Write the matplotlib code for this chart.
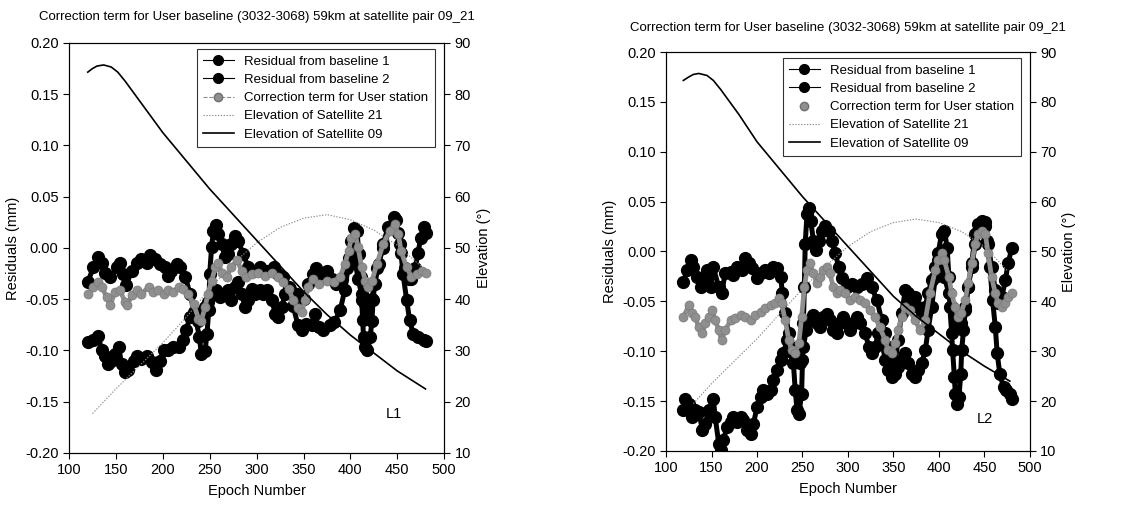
import matplotlib
matplotlib.use("Agg")
import matplotlib.pyplot as plt
from matplotlib.lines import Line2D

plt.rcParams['font.family'] = ['Liberation Sans', 'DejaVu Sans']

TITLE = 'Correction term for User baseline (3032-3068) 59km at satellite pair 09_21'

# ---------------- L1 panel ----------------
l1_b1_ep = [120, 126, 131, 135, 138, 144, 151, 154, 158, 161, 167, 172, 177, 183, 186, 192, 197, 202,
            206, 209, 215, 218, 224, 229, 234, 239, 241, 245, 247, 249, 250, 252, 254, 257, 259, 263,
            266, 270, 273, 277, 280, 286, 291, 296, 304, 311, 318, 323, 328, 334, 339, 344, 348, 353,
            359, 362, 366, 371, 378, 383, 389, 394, 398, 401, 404, 407, 409, 411, 412, 413, 414, 416,
            418, 421, 423, 424, 426, 430, 435, 440, 446, 449, 453, 456, 460, 463, 467, 472, 478, 481]
l1_b1 = [-0.033, -0.019, -0.009, -0.015, -0.024, -0.028, -0.019, -0.015, -0.025, -0.036, -0.022, -0.015,
         -0.011, -0.015, -0.007, -0.011, -0.016, -0.019, -0.027, -0.022, -0.016, -0.019, -0.028, -0.045,
         -0.064, -0.087, -0.103, -0.101, -0.084, -0.061, -0.025, 0.001, 0.017, 0.022, 0.014, 0.004,
         -0.009, -0.006, 0.004, 0.012, 0.007, -0.006, -0.019, -0.022, -0.019, -0.022, -0.019, -0.025,
         -0.028, -0.038, -0.057, -0.075, -0.080, -0.074, -0.075, -0.064, -0.077, -0.080, -0.075, -0.072,
         -0.061, -0.041, -0.016, 0.007, 0.019, 0.017, -0.006, -0.028, -0.051, -0.070, -0.087, -0.097,
         -0.100, -0.087, -0.071, -0.051, -0.035, -0.016, 0.004, 0.020, 0.030, 0.027, 0.004, -0.025,
         -0.051, -0.070, -0.084, -0.087, -0.090, -0.091]

l1_b2_ep = [120, 126, 131, 135, 138, 142, 145, 149, 153, 156, 160, 163, 169, 172, 177, 183, 188, 193,
            197, 201, 206, 211, 217, 222, 225, 229, 233, 236, 238, 241, 245, 248, 254, 257, 261, 264,
            270, 273, 277, 280, 284, 288, 291, 295, 298, 304, 307, 311, 316, 320, 323, 327, 330, 336,
            343, 350, 355, 360, 363, 369, 375, 380, 385, 391, 396, 399, 403, 408, 412, 416, 419, 423,
            428, 435, 442, 447, 451, 454, 458, 462, 465, 469, 472, 475, 478, 481]
l1_b2 = [-0.092, -0.090, -0.086, -0.100, -0.105, -0.113, -0.110, -0.103, -0.097, -0.113, -0.121, -0.119,
         -0.110, -0.105, -0.108, -0.105, -0.111, -0.119, -0.110, -0.100, -0.100, -0.097, -0.097, -0.090,
         -0.080, -0.067, -0.062, -0.068, -0.071, -0.064, -0.058, -0.053, -0.045, -0.041, -0.048, -0.045,
         -0.041, -0.051, -0.038, -0.033, -0.045, -0.058, -0.051, -0.040, -0.045, -0.041, -0.045, -0.041,
         -0.051, -0.064, -0.067, -0.058, -0.045, -0.040, -0.045, -0.050, -0.035, -0.025, -0.020, -0.027,
         -0.022, -0.030, -0.035, -0.030, -0.020, -0.010, 0.000, -0.030, -0.045, -0.055, -0.060, -0.050,
         -0.020, 0.000, 0.020, 0.028, 0.015, -0.005, -0.020, -0.030, -0.030, -0.020, -0.005, 0.010,
         0.020, 0.015]

l1_corr_ep = [120, 126, 131, 135, 140, 144, 149, 154, 160, 162, 167, 172, 177, 185, 190, 195, 201, 206,
              211, 217, 222, 227, 233, 238, 241, 245, 248, 252, 256, 259, 263, 268, 273, 279, 284, 289,
              295, 302, 309, 316, 323, 328, 334, 339, 344, 348, 352, 355, 360, 367, 375, 382, 389, 394,
              398, 401, 405, 408, 412, 416, 419, 423, 428, 435, 442, 447, 451, 454, 460, 465, 471, 476, 481]
l1_corr = [-0.045, -0.038, -0.033, -0.038, -0.048, -0.056, -0.043, -0.041, -0.053, -0.056, -0.046,
           -0.041, -0.045, -0.038, -0.043, -0.041, -0.045, -0.041, -0.043, -0.038, -0.040, -0.045,
           -0.055, -0.069, -0.071, -0.058, -0.045, -0.032, -0.019, -0.015, -0.024, -0.028, -0.019,
           -0.012, -0.022, -0.028, -0.025, -0.024, -0.027, -0.024, -0.028, -0.033, -0.040, -0.051,
           -0.059, -0.062, -0.051, -0.038, -0.030, -0.035, -0.032, -0.033, -0.028, -0.016, -0.003,
           0.010, 0.014, 0.001, -0.019, -0.032, -0.038, -0.032, -0.016, 0.004, 0.017, 0.023, 0.014,
           -0.003, -0.019, -0.028, -0.025, -0.022, -0.024]

l1_sat21_ep = [125, 150, 175, 200, 225, 250, 275, 300, 325, 350, 375, 400, 425, 450, 478]
l1_sat21 = [17.7, 22.5, 27.0, 31.5, 36.5, 42.0, 47.0, 51.0, 54.0, 55.8, 56.5, 55.5, 53.5, 50.5, 46.0]
l1_sat09_ep = [120, 125, 130, 137, 145, 152, 160, 170, 180, 200, 225, 250, 275, 300, 325, 350, 375, 400,
               425, 450, 480]
l1_sat09 = [84.3, 85.0, 85.5, 85.7, 85.3, 84.3, 82.5, 80.0, 77.5, 72.5, 67.0, 61.5, 56.5, 51.5, 46.5,
            41.5, 37.0, 33.0, 29.5, 26.0, 22.5]

# ---------------- L2 panel ----------------
l2_b1_ep = [119, 123, 127, 130, 134, 138, 141, 145, 149, 152, 158, 161, 165, 171, 174, 178, 183, 187,
            191, 194, 200, 204, 209, 213, 218, 222, 226, 228, 231, 235, 237, 240, 242, 244, 246, 249,
            250, 251, 252, 253, 255, 257, 259, 262, 265, 268, 271, 275, 279, 282, 286, 290, 293, 299,
            304, 310, 315, 321, 326, 332, 337, 341, 344, 348, 352, 355, 359, 363, 366, 370, 374, 377,
            381, 385, 388, 392, 396, 399, 403, 406, 411, 414, 418, 421, 424, 429, 432, 436, 440, 443,
            447, 451, 454, 458, 462, 465, 469, 473, 476, 480]
l2_b1 = [-0.031, -0.019, -0.009, -0.016, -0.026, -0.036, -0.029, -0.019, -0.036, -0.016, -0.036, -0.042,
         -0.022, -0.021, -0.024, -0.016, -0.019, -0.007, -0.012, -0.017, -0.027, -0.022, -0.019, -0.022,
         -0.016, -0.017, -0.026, -0.042, -0.062, -0.082, -0.099, -0.112, -0.139, -0.159, -0.163, -0.143,
         -0.109, -0.072, -0.036, 0.008, 0.038, 0.044, 0.031, 0.011, 0.001, 0.011, 0.021, 0.026, 0.021,
         0.011, -0.002, -0.016, -0.027, -0.036, -0.033, -0.036, -0.033, -0.027, -0.036, -0.049, -0.069,
         -0.082, -0.096, -0.123, -0.112, -0.089, -0.062, -0.039, -0.042, -0.049, -0.046, -0.056, -0.062,
         -0.056, -0.042, -0.029, -0.016, -0.009, -0.012, -0.026, -0.042, -0.056, -0.066, -0.076, -0.072,
         -0.056, -0.036, -0.016, 0.008, 0.021, 0.028, 0.026, 0.008, -0.016, -0.039, -0.052, -0.046,
         -0.029, -0.012, 0.003]

l2_b2_ep = [119, 121, 125, 129, 132, 136, 140, 143, 147, 152, 154, 158, 160, 163, 167, 171, 174, 178,
            182, 185, 189, 193, 196, 200, 204, 207, 211, 215, 218, 222, 226, 229, 233, 237, 240, 244,
            247, 251, 254, 258, 262, 266, 269, 273, 277, 280, 284, 288, 291, 295, 299, 302, 306, 310,
            313, 319, 323, 326, 330, 333, 337, 341, 344, 348, 352, 355, 359, 363, 366, 370, 374, 377,
            381, 385, 388, 392, 396, 399, 403, 406, 409, 411, 412, 414, 415, 417, 418, 420, 422, 424,
            425, 427, 429, 432, 436, 440, 443, 447, 451, 453, 456, 459, 462, 464, 467, 471, 474, 478, 480]
l2_b2 = [-0.159, -0.148, -0.153, -0.166, -0.159, -0.161, -0.179, -0.173, -0.159, -0.148, -0.166, -0.193,
         -0.199, -0.189, -0.176, -0.171, -0.166, -0.171, -0.166, -0.169, -0.179, -0.183, -0.173, -0.156,
         -0.146, -0.139, -0.143, -0.139, -0.129, -0.119, -0.109, -0.102, -0.089, -0.096, -0.102, -0.106,
         -0.112, -0.096, -0.079, -0.069, -0.064, -0.072, -0.076, -0.066, -0.063, -0.069, -0.079, -0.082,
         -0.072, -0.066, -0.072, -0.079, -0.072, -0.066, -0.072, -0.082, -0.096, -0.102, -0.096, -0.082,
         -0.089, -0.109, -0.119, -0.126, -0.123, -0.116, -0.109, -0.102, -0.112, -0.123, -0.126, -0.119,
         -0.112, -0.099, -0.079, -0.056, -0.026, -0.002, 0.018, 0.021, 0.004, -0.026, -0.056, -0.082,
         -0.099, -0.126, -0.143, -0.153, -0.146, -0.123, -0.099, -0.079, -0.059, -0.036, -0.012, 0.018,
         0.028, 0.031, 0.030, 0.011, -0.016, -0.049, -0.076, -0.102, -0.123, -0.136, -0.139, -0.143,
         -0.148]

l2_corr_ep = [119, 125, 129, 132, 136, 140, 143, 147, 151, 154, 158, 161, 165, 171, 176, 182, 187, 193,
              198, 204, 209, 215, 220, 224, 227, 231, 235, 238, 242, 246, 249, 252, 255, 258, 262, 266,
              269, 273, 277, 280, 284, 288, 291, 297, 302, 308, 313, 319, 324, 330, 335, 341, 344, 348,
              352, 355, 359, 363, 368, 374, 379, 385, 390, 396, 399, 403, 406, 411, 414, 418, 421, 424,
              429, 432, 436, 440, 443, 447, 451, 454, 458, 462, 465, 469, 473, 476, 480]
l2_corr = [-0.066, -0.054, -0.062, -0.066, -0.076, -0.082, -0.072, -0.066, -0.059, -0.069, -0.079,
           -0.089, -0.079, -0.069, -0.067, -0.064, -0.066, -0.069, -0.064, -0.061, -0.057, -0.054,
           -0.052, -0.047, -0.052, -0.069, -0.089, -0.099, -0.102, -0.092, -0.066, -0.036, -0.019,
           -0.012, -0.022, -0.032, -0.026, -0.019, -0.016, -0.022, -0.036, -0.042, -0.039, -0.042,
           -0.049, -0.046, -0.049, -0.052, -0.059, -0.066, -0.076, -0.089, -0.099, -0.102, -0.092,
           -0.079, -0.066, -0.056, -0.059, -0.069, -0.079, -0.069, -0.042, -0.019, -0.009, -0.002,
           -0.009, -0.026, -0.042, -0.056, -0.066, -0.062, -0.049, -0.032, -0.012, 0.008, 0.018, 0.021,
           0.018, -0.002, -0.026, -0.042, -0.052, -0.056, -0.052, -0.046, -0.042]

l2_sat21_ep = [130, 150, 175, 200, 225, 250, 275, 300, 325, 350, 375, 400, 425, 450, 476]
l2_sat21 = [19.5, 23.5, 28.0, 32.5, 37.5, 42.5, 47.0, 51.0, 54.0, 55.8, 56.5, 55.8, 54.0, 51.0, 46.0]
l2_sat09_ep = [119, 125, 130, 136, 145, 152, 160, 170, 180, 200, 225, 250, 275, 300, 325, 350, 375, 400,
               425, 450, 478]
l2_sat09 = [84.3, 85.0, 85.5, 85.7, 85.3, 84.3, 82.5, 80.0, 77.5, 72.0, 66.5, 61.0, 56.0, 51.0, 46.0,
            41.0, 37.0, 33.5, 30.0, 27.0, 24.0]

labels = ['Residual from baseline 1', 'Residual from baseline 2', 'Correction term for User station',
          'Elevation of Satellite 21', 'Elevation of Satellite 09']

GRAY = '#8f8f8f'


def draw_panel(fig, rect, title_y, b1_ep, b1, b2_ep, b2, corr_ep, corr,
               s21_ep, s21, s09_ep, s09, tag, tag_xy, corr_leg_line):
    ax = fig.add_axes(rect)
    # thick joining line fills the gaps so the dense markers read as a band
    for ep, vals in [(b1_ep, b1), (b2_ep, b2)]:
        ax.plot(ep, vals, color='black', lw=3.6, solid_joinstyle='round',
                solid_capstyle='round', zorder=3)
        ax.plot(ep, vals, ls='none', marker='o', ms=8.5, mfc='black', mec='black', zorder=3)
    ax.plot(corr_ep, corr, color=GRAY, lw=3.4, solid_joinstyle='round', solid_capstyle='round',
            zorder=4)
    ax.plot(corr_ep, corr, ls='none', marker='o', ms=6.5, mfc=GRAY, mec='#7a7a7a', mew=0.5, zorder=4)
    ax.set_xlim(100, 500)
    ax.set_ylim(-0.2, 0.2)
    ax.set_xticks(range(100, 501, 50))
    ax.set_yticks([-0.2, -0.15, -0.1, -0.05, 0, 0.05, 0.1, 0.15, 0.2])
    ax.set_yticklabels(['%.2f' % v for v in ax.get_yticks()])
    ax.set_xlabel('Epoch Number', fontsize=10.5, labelpad=5)
    ax.set_ylabel('Residuals (mm)', fontsize=10.5)
    ax.tick_params(labelsize=10.5, direction='out', length=4)
    ax.text(tag_xy[0], tag_xy[1], tag, fontsize=10.5, ha='center', va='center')

    ax2 = ax.twinx()
    ax2.plot(s21_ep, s21, color='#8a8a8a', lw=0.8, ls=(0, (1.2, 1.4)))
    ax2.plot(s09_ep, s09, color='black', lw=1.2)
    ax2.set_ylim(10, 90)
    ax2.set_yticks(range(10, 91, 10))
    ax2.set_ylabel('Elevation (°)', fontsize=10.5)
    ax2.tick_params(labelsize=10.5, direction='out', length=4)

    handles = [
        Line2D([], [], color='black', lw=0.8, marker='o', ms=7),
        Line2D([], [], color='black', lw=0.8, marker='o', ms=7),
        Line2D([], [], color=GRAY, lw=0.8, ls='--' if corr_leg_line else 'none',
               marker='o', ms=6, mec='#6f6f6f'),
        Line2D([], [], color='#8a8a8a', lw=0.8, ls=(0, (1.2, 1.4))),
        Line2D([], [], color='black', lw=1.2),
    ]
    leg = ax2.legend(handles, labels, loc='upper right', bbox_to_anchor=(0.975, 0.985),
                     borderaxespad=0, fontsize=9.5, frameon=True, fancybox=False,
                     handlelength=2.3, labelspacing=0.45, borderpad=0.5, handletextpad=0.8)
    leg.get_frame().set_edgecolor('black')
    leg.get_frame().set_linewidth(0.8)

    cx = rect[0] + rect[2] / 2
    fig.text(cx, title_y, TITLE, fontsize=9.5, ha='center', va='center')
    return ax, ax2


fig = plt.figure(figsize=(11.37, 5.05), dpi=100)
draw_panel(fig, [0.0607, 0.103, 0.330, 0.812], 0.966, l1_b1_ep, l1_b1, l1_b2_ep, l1_b2,
           l1_corr_ep, l1_corr, l1_sat21_ep, l1_sat21, l1_sat09_ep, l1_sat09, 'L1', (446, -0.162),
           True)
draw_panel(fig, [0.5858, 0.107, 0.320, 0.790], 0.945, l2_b1_ep, l2_b1, l2_b2_ep, l2_b2,
           l2_corr_ep, l2_corr, l2_sat21_ep, l2_sat21, l2_sat09_ep, l2_sat09, 'L2', (451, -0.168),
           False)

fig.savefig('out.png', dpi=100)
